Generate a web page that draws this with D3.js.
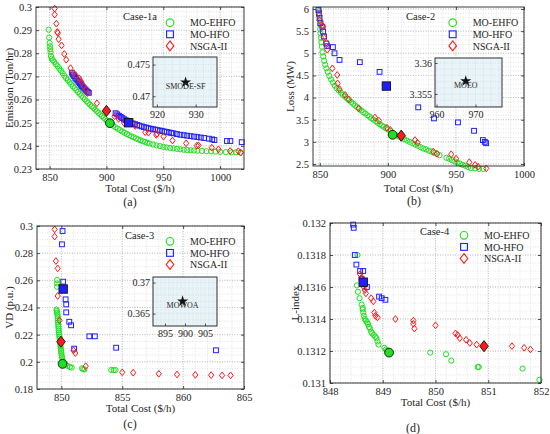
<!DOCTYPE html>
<html><head><meta charset="utf-8">
<script src="https://cdn.jsdelivr.net/npm/d3@7"></script>
<style>
body{margin:0;background:#fff}
svg{display:block}
text{font-family:"Liberation Serif","DejaVu Serif",serif;fill:#262626}
</style>
</head><body>
<svg id="chart" width="550" height="434"></svg>
<script>
// ---------------- DATA ----------------
const seriesNames = ["MO-EHFO", "MO-HFO", "NSGA-II"];
const caseLabels = ["Case-1a", "Case-2", "Case-3", "Case-4"];
const panelLetters = ["(a)", "(b)", "(c)", "(d)"];
const xTitles = ["Total Cost ($/h)", "Total Cost ($/h)", "Total Cost ($/h)", "Total Cost ($/h)"];
const yTitles = ["Emission (Ton/hr)", "Loss (MW)", "VD (p.u.)", "L-index"];

const xTicksA = [850, 900, 950, 1000];
const yTicksA = [0.23, 0.24, 0.25, 0.26, 0.27, 0.28, 0.29, 0.3];
const xTicksB = [850, 900, 950, 1000];
const yTicksB = [2.5, 3, 3.5, 4, 4.5, 5, 5.5, 6];
const xTicksC = [850, 855, 860, 865];
const yTicksC = [0.18, 0.2, 0.22, 0.24, 0.26, 0.28, 0.3];
const xTicksD = [848, 849, 850, 851, 852];
const yTicksD = [0.131, 0.1312, 0.1314, 0.1316, 0.1318, 0.132];

// Case-1a: cost vs emission
const a_ehfo = [[849.1,0.2902],[849.6,0.2868],[850.0,0.2845],[850.3,0.2830],[850.5,0.2818],[850.8,0.2805],[851.2,0.2788],[851.8,0.2777],[852.8,0.2770],[854,0.2763],[855.5,0.2753],[857,0.2744],[858.5,0.2734],[860,0.2724],[861.5,0.2714],[863,0.2703],[864.5,0.2693],[866,0.2684],[867.5,0.2675],[869,0.2666],[870.5,0.2657],[872,0.2649],[873.5,0.2641],[875,0.2633],[876.5,0.2625],[878,0.2617],[879.5,0.2609],[881,0.2601],[882.5,0.2593],[884,0.2585],[885.5,0.2578],[887,0.2571],[888.5,0.2564],[890,0.2557],[891.5,0.2550],[893,0.2543],[894.5,0.2536],[896,0.2529],[897.5,0.2522],[899,0.2515],[900.5,0.2508],[902,0.2501],[904,0.2494],[906,0.2487],[908,0.2480],[910,0.2474],[912,0.2468],[914,0.2462],[916,0.2456],[918,0.2451],[920,0.2446],[922,0.2441],[924,0.2437],[926,0.2432],[928,0.2428],[930,0.2424],[932,0.2420],[934,0.2417],[936,0.2413],[938,0.2410],[941,0.2406],[944,0.2402],[947,0.2399],[950,0.2396],[953,0.2393],[956,0.2391],[959,0.2389],[962,0.2387],[965,0.2385],[968,0.2383],[971,0.2382],[974,0.2381],[977,0.2380],[980,0.2379],[984,0.2378],[988,0.2377],[992,0.2376],[996,0.2375],[1000,0.2374],[1005,0.2373],[1010,0.2372],[1014,0.2372],[1018,0.2371]];
const a_hfo = [[869.5,0.2716],[870.5,0.2708],[871.5,0.2701],[872.5,0.2694],[873.5,0.2688],[874.5,0.2682],[875.5,0.2676],[876.5,0.2670],[877.5,0.2664],[878.5,0.2658],[879.5,0.2653],[880.5,0.2648],[881.5,0.2643],[882.5,0.2638],[883.5,0.2633],[884.5,0.2629],[908,0.2541],[909.5,0.2536],[911,0.2530],[912.5,0.2525],[914,0.2520],[915.5,0.2515],[917,0.2511],[918.5,0.2507],[921,0.2501],[923,0.2497],[925,0.2494],[927,0.2490],[929,0.2487],[931,0.2484],[933,0.2481],[935,0.2479],[937,0.2476],[939,0.2474],[941,0.2472],[943,0.2470],[945,0.2468],[947,0.2466],[949,0.2464],[951,0.2462],[953,0.2460],[955,0.2458],[957,0.2456],[959,0.2454],[962,0.2451],[965,0.2448],[968,0.2446],[971,0.2444],[974,0.2442],[977,0.2440],[980,0.2438],[983,0.2436],[986,0.2434],[990,0.2431],[993,0.2428],[995,0.2425],[1006,0.2421],[1009,0.2421],[1019,0.2416]];
const a_nsga = [[854.4,0.2993],[854.4,0.2967],[855.9,0.2928],[856.7,0.2892],[857.2,0.2888],[857.9,0.2861],[860.5,0.2834],[862.9,0.2797],[864.6,0.2772],[868.4,0.2736],[871.1,0.2714],[873,0.2705],[876,0.2692],[876.9,0.2681],[878,0.2675],[879.9,0.2657],[882,0.2645],[883.4,0.2628],[891.6,0.2584],[907.1,0.2528],[910.6,0.2517],[915.6,0.2498],[925.3,0.2486],[934.1,0.2459],[937,0.2457],[943.8,0.2447],[944.5,0.2452],[950.2,0.2440],[958.1,0.2423],[970.1,0.2411],[979.5,0.2401],[981,0.2402],[992.7,0.2392],[998.5,0.2385],[1008.8,0.2378],[1016,0.2377],[1018,0.2371]];
const a_best = [[903,0.2498],[919.5,0.2500],[900,0.2551]]; // EHFO, HFO, NSGA-II compromise
const a_inset = {name:"SMODE-SF", point:[927.4,0.4722], xTicks:[920,930], yTicks:[0.47,0.475], xd:[919,935.5], yd:[0.4683,0.4762]};

// Case-2: cost vs loss
const b_ehfo = [[849.5,5.95],[849.7,5.85],[849.9,5.75],[850.1,5.65],[850.3,5.55],[850.5,5.45],[850.8,5.35],[851.1,5.25],[851.5,5.15],[852,5.02],[852.5,4.93],[853.2,4.83],[854,4.74],[854.8,4.66],[855.8,4.58],[857,4.49],[858.3,4.41],[859.6,4.34],[861,4.27],[862.5,4.21],[864,4.16],[865.5,4.11],[867,4.06],[868.5,4.02],[870,3.98],[871.5,3.94],[873,3.90],[874.5,3.86],[876,3.82],[877.5,3.78],[879,3.74],[880.5,3.71],[882,3.67],[883.5,3.64],[885,3.60],[886.5,3.57],[888,3.53],[889.5,3.50],[891,3.47],[892.5,3.43],[894,3.40],[895.5,3.37],[897,3.34],[898.5,3.31],[900,3.28],[902,3.24],[906,3.15],[908,3.12],[910,3.09],[912,3.06],[914,3.03],[916,3.00],[918,2.97],[920,2.94],[922,2.91],[924,2.88],[926,2.85],[928,2.83],[930,2.80],[932,2.78],[934,2.75],[936,2.73],[938,2.70],[943,2.64],[945,2.62],[947,2.59],[949,2.56],[951,2.53],[953,2.51],[955,2.48],[957,2.46],[959,2.43],[961,2.41],[964,2.40],[967,2.39],[970,2.39]];
const b_hfo = [[849,5.977],[849.3,5.90],[849.8,5.80],[850.5,5.68],[851.9,5.60],[852.4,5.49],[853.1,5.38],[854.8,5.22],[855.5,5.16],[859.6,5.14],[860.8,5.0],[864.5,4.85],[879.4,4.80],[893.9,4.58],[922.3,3.78],[933.9,3.53],[951.5,3.44],[963.3,3.25],[969.8,3.04],[971.2,3.00],[972.2,2.97]];
const b_nsga = [[849.5,5.89],[850,5.74],[851.7,5.62],[852.4,5.60],[852.9,5.36],[854.8,5.24],[855.5,5.08],[859.2,4.66],[862.8,4.51],[863.1,4.32],[864.5,4.19],[868.6,4.06],[871.3,3.96],[878.5,3.76],[890.5,3.55],[893.4,3.48],[899.4,3.32],[901.8,3.27],[919.9,3.04],[921.8,2.98],[933.4,2.78],[936.1,2.73],[946.5,2.72],[950.1,2.62],[959.8,2.54],[964.1,2.48],[966.3,2.44],[972.3,2.40]];
const b_best = [[903.5,3.16],[898.9,4.26],[909.8,3.14]];
const b_inset = {name:"MOEO", point:[967.5,3.3571], xTicks:[960,970], yTicks:[3.355,3.36], xd:[959.6,976.8], yd:[3.3529,3.3608]};

// Case-3: cost vs voltage deviation
const c_ehfo = [[849.65,0.2602],[849.65,0.2577],[849.65,0.2553],[849.6,0.2385],[849.62,0.2375],[849.65,0.2362],[849.68,0.2348],[849.7,0.2335],[849.7,0.232],[849.72,0.2305],[849.72,0.229],[849.75,0.2275],[849.75,0.226],[849.78,0.2245],[849.78,0.223],[849.8,0.2215],[849.82,0.22],[849.84,0.2185],[849.86,0.217],[849.88,0.2155],[849.9,0.214],[849.92,0.2125],[849.94,0.211],[849.96,0.2095],[849.98,0.208],[850.0,0.2065],[850.02,0.205],[850.05,0.2035],[850.08,0.202],[850.12,0.2005],[850.2,0.1992],[850.35,0.198],[850.5,0.197],[850.7,0.1962],[850.85,0.1958],[851.7,0.1952],[851.8,0.1946],[851.9,0.1944],[854.1,0.194],[854.3,0.1939],[854.45,0.1939]];
const c_hfo = [[850.1,0.2963],[850.05,0.2865],[850.15,0.259],[850.35,0.246],[850.4,0.2423],[850.4,0.2364],[850.65,0.2295],[850.8,0.2269],[851.05,0.2097],[852.3,0.2188],[852.75,0.2188],[854.5,0.2104],[862.7,0.2085]];
const c_nsga = [[849.45,0.2975],[849.45,0.2922],[849.55,0.2742],[849.7,0.2688],[849.7,0.2485],[849.85,0.2305],[851.0,0.2085],[851.15,0.2065],[852.0,0.1968],[855.0,0.1923],[855.9,0.1920],[858.0,0.1912],[859.5,0.1907],[861.0,0.1904],[862.3,0.1902],[863.2,0.1900],[863.9,0.1900]];
const c_best = [[850.1,0.1985],[850.15,0.2536],[849.97,0.2148]];
const c_inset = {name:"MOWOA", point:[899.4,0.3670], xTicks:[895,900,905], yTicks:[0.365,0.37], xd:[892,908], yd:[0.363,0.3709]};

// Case-4: cost vs L-index
const d_ehfo = [[848.52,0.1318],[848.51,0.13161],[848.53,0.13157],[848.56,0.13153],[848.6,0.13149],[848.62,0.13147],[848.62,0.13146],[848.63,0.13144],[848.64,0.13142],[848.66,0.1314],[848.68,0.13139],[848.7,0.13138],[848.72,0.13137],[848.74,0.13135],[848.76,0.13134],[848.78,0.13132],[848.8,0.13131],[848.83,0.1313],[848.86,0.13129],[848.88,0.13128],[848.9,0.13126],[848.92,0.13124],[849.03,0.13122],[849.06,0.13121],[849.08,0.1312],[849.9,0.13119],[850.2,0.13118],[850.3,0.13114],[850.8,0.1311],[850.82,0.1311],[851.65,0.13109],[851.97,0.13102]];
const d_hfo = [[848.44,0.13199],[848.45,0.13197],[848.47,0.1318],[848.5,0.13174],[848.57,0.1317],[848.63,0.1317],[848.6,0.13165],[848.7,0.1316],[848.93,0.13154],[848.98,0.13153],[849.05,0.13152]];
const d_nsga = [[848.57,0.13168],[848.6,0.13166],[848.62,0.13164],[848.63,0.13162],[848.64,0.1316],[848.66,0.13158],[848.68,0.13156],[848.78,0.13153],[848.82,0.13151],[848.84,0.13144],[848.86,0.13142],[848.9,0.13141],[849.24,0.1314],[849.58,0.13139],[849.58,0.13137],[849.6,0.13134],[850.0,0.13136],[850.38,0.13131],[850.42,0.1313],[850.46,0.13128],[850.58,0.13127],[850.65,0.13125],[850.78,0.13124],[851.45,0.13123],[851.68,0.13122],[851.8,0.13121]];
const d_best = [[849.12,0.13119],[848.63,0.13163],[850.92,0.13123]];

// ---------------- STYLE / LAYOUT ----------------
const colors = ["#1fe01f", "#1f1fff", "#ff1a1a"];
const panels = [
  {x0:36, x1:244, y0:7, y1:169, xd:[838,1021], yd:[0.23,0.3], xt:xTicksA, yt:yTicksA, xm:10, ym:0.002,
   series:[a_ehfo,a_hfo,a_nsga], best:a_best, inset:a_inset, insetBox:[153,57,217,107],
   legend:[170,22.7], caseAt:[123,20], yTitleX:13, xTitleY:192, letterAt:[130,206]},
  {x0:313, x1:524, y0:7, y1:166, xd:[845,1000], yd:[2.455,6.045], xt:xTicksB, yt:yTicksB, xm:10, ym:0.1,
   series:[b_ehfo,b_hfo,b_nsga], best:b_best, inset:b_inset, insetBox:[435,58,502,107],
   legend:[452.7,22.7], caseAt:[406,20], yTitleX:294, xTitleY:192, letterAt:[414,205]},
  {x0:37, x1:244, y0:226, y1:389, xd:[848,865], yd:[0.18,0.3], xt:xTicksC, yt:yTicksC, xm:1, ym:0.005,
   series:[c_ehfo,c_hfo,c_nsga], best:c_best, inset:c_inset, insetBox:[153,277,217,326],
   legend:[170,241.3], caseAt:[125,239], yTitleX:13, xTitleY:412, letterAt:[130,428]},
  {x0:330, x1:541, y0:223, y1:383, xd:[848,852], yd:[0.131,0.132], xt:xTicksD, yt:yTicksD, xm:0.2, ym:0.00005,
   series:[d_ehfo,d_hfo,d_nsga], best:d_best, inset:null, insetBox:null,
   legend:[464,235.3], caseAt:[420,235], yTitleX:299, xTitleY:406, letterAt:[413,432]}
];

const svg = d3.select("#chart");
const fmt = v => String(+(+v).toFixed(6));
function multiples(d, step){
  const a = Math.ceil(d[0]/step - 1e-6), b = Math.floor(d[1]/step + 1e-6);
  return d3.range(a, b+1).map(i => +(i*step).toFixed(8));
}

function marker(g, type, cx, cy, s, color, filled){
  let el;
  if (type === 0) {
    el = g.append("circle").attr("cx", cx).attr("cy", cy).attr("r", s);
  } else if (type === 1) {
    el = g.append("rect").attr("x", cx - s).attr("y", cy - s).attr("width", 2*s).attr("height", 2*s);
  } else {
    const h = s*1.3;
    el = g.append("path").attr("d", `M${cx},${cy-h}L${cx+s},${cy}L${cx},${cy+h}L${cx-s},${cy}Z`);
  }
  if (filled) el.attr("fill", color).attr("stroke", "#111").attr("stroke-width", 0.9);
  else el.attr("fill", "none").attr("stroke", color).attr("stroke-width", 1);
  return el;
}

function grid(g, x, y, xd, yd, xm, ym, xt, yt, x0, x1, y0, y1){
  multiples(xd, xm).forEach(v => g.append("line").attr("x1", x(v)).attr("x2", x(v)).attr("y1", y0).attr("y2", y1)
    .attr("stroke", "#d4d4d4").attr("stroke-width", 0.6).attr("stroke-dasharray", "1,1.5"));
  multiples(yd, ym).forEach(v => g.append("line").attr("y1", y(v)).attr("y2", y(v)).attr("x1", x0).attr("x2", x1)
    .attr("stroke", "#d4d4d4").attr("stroke-width", 0.6).attr("stroke-dasharray", "1,1.5"));
  xt.forEach(v => g.append("line").attr("x1", x(v)).attr("x2", x(v)).attr("y1", y0).attr("y2", y1)
    .attr("stroke", "#b0b0b0").attr("stroke-width", 0.7).attr("stroke-dasharray", "1,1.5"));
  yt.forEach(v => g.append("line").attr("y1", y(v)).attr("y2", y(v)).attr("x1", x0).attr("x2", x1)
    .attr("stroke", "#b0b0b0").attr("stroke-width", 0.7).attr("stroke-dasharray", "1,1.5"));
}

function styleAxis(sel, size){
  sel.select(".domain").remove();
  sel.selectAll(".tick line").attr("stroke", "#262626").attr("stroke-width", 0.8);
  sel.selectAll(".tick text").attr("font-family", '"Liberation Serif", serif').attr("font-size", size).attr("fill", "#262626");
}

panels.forEach((p, i) => {
  const g = svg.append("g");
  const x = d3.scaleLinear().domain(p.xd).range([p.x0, p.x1]);
  const y = d3.scaleLinear().domain(p.yd).range([p.y1, p.y0]);

  g.append("rect").attr("x", p.x0).attr("y", p.y0).attr("width", p.x1-p.x0).attr("height", p.y1-p.y0).attr("fill", "#fff");
  grid(g, x, y, p.xd, p.yd, p.xm, p.ym, p.xt, p.yt, p.x0, p.x1, p.y0, p.y1);

  // axes (ticks inside, MATLAB style)
  const ax = g.append("g").attr("transform", `translate(0,${p.y1})`)
    .call(d3.axisBottom(x).tickValues(p.xt).tickFormat(fmt).tickSizeInner(-3).tickSizeOuter(0).tickPadding(5));
  styleAxis(ax, "10.5px");
  const ay = g.append("g").attr("transform", `translate(${p.x0},0)`)
    .call(d3.axisLeft(y).tickValues(p.yt).tickFormat(fmt).tickSizeInner(-3).tickSizeOuter(0).tickPadding(4));
  styleAxis(ay, "10.5px");
  g.append("g").attr("transform", `translate(0,${p.y0})`)
    .call(d3.axisTop(x).tickValues(p.xt).tickFormat("").tickSizeInner(-3).tickSizeOuter(0))
    .call(s => styleAxis(s, "0px"));
  g.append("g").attr("transform", `translate(${p.x1},0)`)
    .call(d3.axisRight(y).tickValues(p.yt).tickFormat("").tickSizeInner(-3).tickSizeOuter(0))
    .call(s => styleAxis(s, "0px"));

  // inset
  if (p.inset) {
    const [bx0, by0, bx1, by1] = p.insetBox;
    const ix = d3.scaleLinear().domain(p.inset.xd).range([bx0, bx1]);
    const iy = d3.scaleLinear().domain(p.inset.yd).range([by1, by0]);
    g.append("rect").attr("x", bx0).attr("y", by0).attr("width", bx1-bx0).attr("height", by1-by0).attr("fill", "#e9f4f9");
    const ig = g.append("g");
    multiples(p.inset.xd, (p.inset.xTicks[1]-p.inset.xTicks[0])/5).forEach(v => ig.append("line")
      .attr("x1", ix(v)).attr("x2", ix(v)).attr("y1", by0).attr("y2", by1)
      .attr("stroke", "#c6d3da").attr("stroke-width", 0.6).attr("stroke-dasharray", "1,1.5"));
    multiples(p.inset.yd, (p.inset.yTicks[1]-p.inset.yTicks[0])/5).forEach(v => ig.append("line")
      .attr("y1", iy(v)).attr("y2", iy(v)).attr("x1", bx0).attr("x2", bx1)
      .attr("stroke", "#c6d3da").attr("stroke-width", 0.6).attr("stroke-dasharray", "1,1.5"));
    const iax = g.append("g").attr("transform", `translate(0,${by1})`)
      .call(d3.axisBottom(ix).tickValues(p.inset.xTicks).tickFormat(fmt).tickSizeInner(-2.5).tickSizeOuter(0).tickPadding(4));
    styleAxis(iax, "10px");
    const iay = g.append("g").attr("transform", `translate(${bx0},0)`)
      .call(d3.axisLeft(iy).tickValues(p.inset.yTicks).tickFormat(fmt).tickSizeInner(-2.5).tickSizeOuter(0).tickPadding(3));
    styleAxis(iay, "10px");
    g.append("rect").attr("x", bx0).attr("y", by0).attr("width", bx1-bx0).attr("height", by1-by0)
      .attr("fill", "none").attr("stroke", "#333").attr("stroke-width", 1);
    const sx = ix(p.inset.point[0]), sy = iy(p.inset.point[1]);
    g.append("path").attr("d", d3.symbol(d3.symbolStar, 38)()).attr("transform", `translate(${sx},${sy})`).attr("fill", "#111");
    g.append("text").attr("x", sx).attr("y", sy + 7).attr("text-anchor", "middle")
      .attr("font-size", "8px").text(p.inset.name);
  }

  // data markers
  [0, 1, 2].forEach(k => {
    const mg = g.append("g");
    p.series[k].forEach(d => marker(mg, k, x(d[0]), y(d[1]), k === 1 ? 2.4 : 2.6, colors[k], false));
  });
  [0, 1, 2].forEach(k => {
    const d = p.best[k];
    marker(g, k, x(d[0]), y(d[1]), k === 1 ? 4.2 : (k === 0 ? 4.4 : 4.3), colors[k], true);
  });

  // box
  g.append("rect").attr("x", p.x0).attr("y", p.y0).attr("width", p.x1-p.x0).attr("height", p.y1-p.y0)
    .attr("fill", "none").attr("stroke", "#262626").attr("stroke-width", 0.9);

  // legend
  const [lx, ly] = p.legend;
  seriesNames.forEach((n, k) => {
    const yy = ly + k*11.6;
    marker(g, k, lx, yy, k === 1 ? 3.4 : 3.8, colors[k], false).attr("stroke-width", 1.1);
    g.append("text").attr("x", lx + 20).attr("y", yy + 3.6).attr("font-size", "10px").text(n);
  });
  g.append("text").attr("x", p.caseAt[0]).attr("y", p.caseAt[1]).attr("font-size", "10.5px").text(caseLabels[i]);

  // titles
  g.append("text").attr("x", (p.x0+p.x1)/2).attr("y", p.xTitleY).attr("text-anchor", "middle")
    .attr("font-size", "11px").text(xTitles[i]);
  g.append("text").attr("transform", `translate(${p.yTitleX},${(p.y0+p.y1)/2}) rotate(-90)`)
    .attr("text-anchor", "middle").attr("font-size", "11px").text(yTitles[i]);
  g.append("text").attr("x", p.letterAt[0]).attr("y", p.letterAt[1]).attr("text-anchor", "middle")
    .attr("font-size", "12px").text(panelLetters[i]);
});
</script>
</body></html>
